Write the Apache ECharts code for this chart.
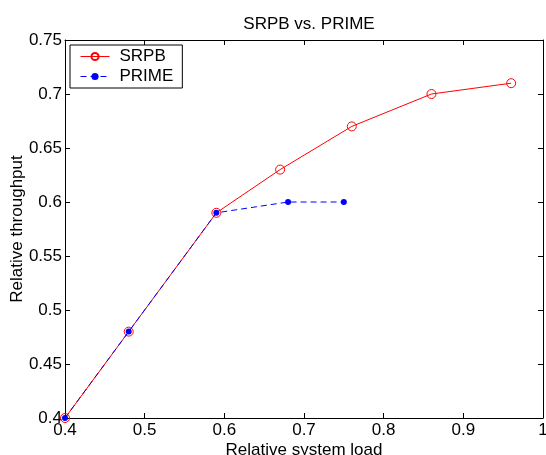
<!DOCTYPE html>
<html><head><meta charset="utf-8">
<script src="https://cdn.jsdelivr.net/npm/echarts@6/dist/echarts.min.js"></script>
<style>html,body{margin:0;padding:0;background:#fff}#c{width:546px;height:455px}</style>
</head><body><div id="c"></div>
<script>
const srpbX = [0.4, 0.48, 0.59, 0.67, 0.76, 0.86, 0.96];
const srpbY = [0.4, 0.48, 0.59, 0.63, 0.67, 0.70, 0.71];
const primeX = [0.4, 0.48, 0.59, 0.68, 0.75];
const primeY = [0.4, 0.48, 0.59, 0.60, 0.60];
const xTicks = [0.4, 0.5, 0.6, 0.7, 0.8, 0.9, 1];
const yTicks = [0.4, 0.45, 0.5, 0.55, 0.6, 0.65, 0.7, 0.75];

const font = 'Liberation Sans, Arial, sans-serif';
const fs = 17;
const chart = echarts.init(document.getElementById('c'));
const axisCommon = {
  axisLine: {show: true, lineStyle: {color: '#000', width: 1}},
  axisTick: {show: true, inside: true, length: 5, lineStyle: {color: '#000'}},
  splitLine: {show: false}
};
chart.setOption({
  animation: false,
  title: {text: 'SRPB vs. PRIME', left: 304, top: 11, textAlign: 'center',
    textStyle: {fontFamily: font, fontSize: fs, fontWeight: 'normal', color: '#000'}},
  grid: {left: 65, right: 3, top: 40, bottom: 37, containLabel: false, outerBoundsMode: 'none'},
  legend: {
    left: 70, top: 45, orient: 'vertical', itemWidth: 29, itemHeight: 9, itemGap: 3,
    borderColor: '#000', borderWidth: 1, padding: [3, 9, 3, 10], backgroundColor: '#fff',
    lineStyle: {width: 1},
    textStyle: {fontFamily: font, fontSize: fs, color: '#000', padding: [0, 0, 0, 5]},
    data: ['SRPB', 'PRIME']
  },
  xAxis: [
    Object.assign({type: 'value', min: 0.4, max: 1, interval: 0.1,
      name: 'Relative system load', nameLocation: 'middle', nameGap: 24, nameMoveOverlap: false,
      nameTextStyle: {fontFamily: font, fontSize: fs, color: '#000'},
      axisLabel: {fontFamily: font, fontSize: fs, color: '#000', margin: 4,
        formatter: v => { const t = xTicks.find(a => Math.abs(a - v) < 1e-9); return t === undefined ? '' : String(t); }}
    }, axisCommon),
    Object.assign({type: 'value', position: 'top', min: 0.4, max: 1, interval: 0.1,
      axisLabel: {show: false}}, axisCommon)
  ],
  yAxis: [
    Object.assign({type: 'value', min: 0.4, max: 0.75, interval: 0.05,
      name: 'Relative throughput', nameLocation: 'middle', nameGap: 39, nameMoveOverlap: false,
      nameTextStyle: {fontFamily: font, fontSize: fs, color: '#000'},
      axisLabel: {fontFamily: font, fontSize: fs, color: '#000', margin: 3,
        formatter: v => { const t = yTicks.find(a => Math.abs(a - v) < 1e-9); return t === undefined ? '' : String(t); }}
    }, axisCommon),
    Object.assign({type: 'value', position: 'right', min: 0.4, max: 0.75, interval: 0.05,
      axisLabel: {show: false}}, axisCommon)
  ],
  series: [
    {name: 'SRPB', type: 'line', data: srpbX.map((x, i) => [x, srpbY[i]]),
      symbol: 'circle', symbolSize: 9, color: '#ff0000',
      lineStyle: {color: '#ff0000', width: 1},
      itemStyle: {color: 'rgba(255,255,255,0)', borderColor: '#ff0000', borderWidth: 1}, z: 3},
    {name: 'PRIME', type: 'line', data: primeX.map((x, i) => [x, primeY[i]]),
      symbol: 'circle', symbolSize: 6, color: '#0000ff',
      lineStyle: {color: '#0000ff', width: 1, type: [6, 4]}, itemStyle: {color: '#0000ff'}, z: 4}
  ]
});
</script></body></html>
